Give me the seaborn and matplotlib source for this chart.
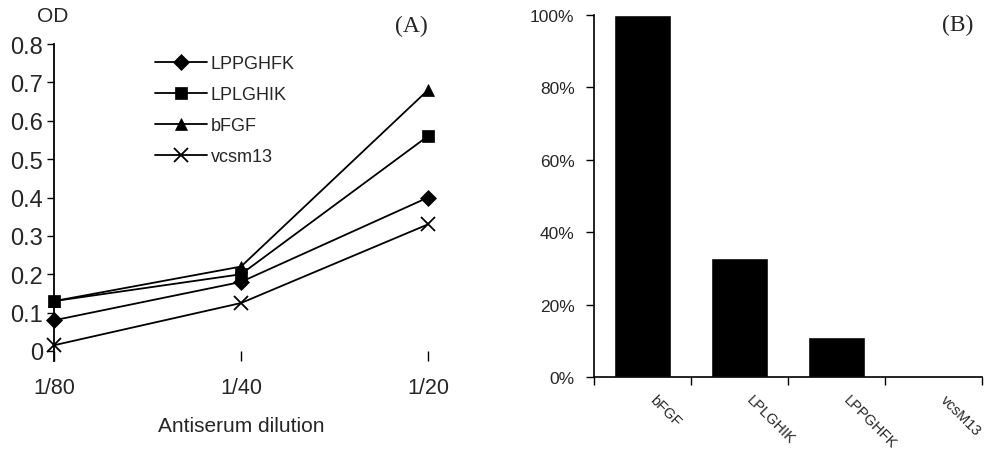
import numpy as np
import pandas as pd
import matplotlib
matplotlib.use('Agg')
import matplotlib.pyplot as plt
import matplotlib.transforms as mtransforms
import seaborn as sns
from matplotlib.ticker import PercentFormatter

# panel A: OD vs antiserum dilution
dilutions = ['1/80', '1/40', '1/20']
lppghfk = [0.08, 0.18, 0.40]
lplghik = [0.13, 0.20, 0.56]
bfgf = [0.13, 0.22, 0.68]
vcsm13 = [0.015, 0.125, 0.33]

# panel B: relative binding
bar_cats = ['bFGF', 'LPLGHIK', 'LPPGHFK', 'vcsM13']
bar_vals = [1.00, 0.33, 0.11, 0.0]

sns.set_style('ticks')
plt.rcParams['font.family'] = ['Liberation Sans', 'DejaVu Sans']

fig = plt.figure(figsize=(9.86, 4.52), dpi=100)
ax1 = fig.add_axes([54 / 986, 1 - 352 / 452, (428 - 54) / 986, (352 - 45) / 452])
ax2 = fig.add_axes([594 / 986, 1 - 378 / 452, (982 - 594) / 986, (378 - 16) / 452])

series = [('LPPGHFK', lppghfk, 'D', 8),
          ('LPLGHIK', lplghik, 's', 9),
          ('bFGF', bfgf, '^', 9),
          ('vcsm13', vcsm13, 'x', 10)]
xpos = np.arange(len(dilutions))
for name, vals, mk, ms in series:
    sns.lineplot(x=xpos, y=vals, ax=ax1, color='black', lw=1.3, marker=mk,
                 markersize=ms, markeredgecolor='black', markeredgewidth=1.3 if mk == 'x' else 0.5,
                 label=name, clip_on=False)

ax1.set_xlim(0, 2)
ax1.set_ylim(0, 0.8)
ax1.set_xticks(xpos)
ax1.set_xticklabels(dilutions)
ax1.set_yticks(np.arange(0, 0.81, 0.1))
ax1.set_yticklabels(['0'] + [f'{v:.1f}' for v in np.arange(0.1, 0.81, 0.1)])
ax1.tick_params(axis='both', direction='out', length=5, width=1, color='black')
ax1.tick_params(axis='y', labelsize=17, pad=3)
ax1.tick_params(axis='x', labelsize=15.5, length=7, pad=12)
for s in ['top', 'right', 'bottom']:
    ax1.spines[s].set_visible(False)
ax1.spines['left'].set_color('black')
ax1.spines['left'].set_linewidth(1.3)
ax1.spines['left'].set_bounds(-0.025, 0.8)
ax1.set_xlabel('Antiserum dilution', fontsize=15, labelpad=13)
ax1.set_ylabel('')
fig.text(37 / 986, 1 - 17 / 452, 'OD', fontsize=15, ha='left', va='center')
fig.text(411 / 986, 1 - 26 / 452, '(A)', fontsize=17, family='Liberation Serif',
         ha='center', va='center')
ax1.legend(loc='upper left', bbox_to_anchor=(0.24, 1.0), frameon=False, fontsize=13,
           handlelength=2.9, handletextpad=0.2, labelspacing=0.78, borderaxespad=0.2)

sns.barplot(x=bar_cats, y=bar_vals, ax=ax2, color='black', width=0.59, saturation=1)
ax2.set_xlim(-0.5, 3.5)
ax2.set_ylim(0, 1.0)
ax2.yaxis.set_major_formatter(PercentFormatter(1.0, decimals=0))
ax2.set_yticks(np.arange(0, 1.01, 0.2))
ax2.tick_params(axis='y', labelsize=12.5, direction='out', length=6, width=1, color='black', pad=8)
ax2.set_xticks(np.arange(-0.5, 3.6, 1.0), minor=True)
ax2.tick_params(axis='x', which='minor', direction='out', length=6, width=1, color='black')
ax2.tick_params(axis='x', which='major', length=0, labelsize=10.5, pad=11)
shift = mtransforms.ScaledTranslation(14 / 100, 0, fig.dpi_scale_trans)
for lab in ax2.get_xticklabels():
    lab.set_rotation(-45)
    lab.set_ha('left')
    lab.set_rotation_mode('anchor')
    lab.set_transform(lab.get_transform() + shift)
for s in ['top', 'right']:
    ax2.spines[s].set_visible(False)
for s in ['left', 'bottom']:
    ax2.spines[s].set_color('black')
    ax2.spines[s].set_linewidth(1.2)
ax2.set_xlabel('')
ax2.set_ylabel('')
fig.text(958 / 986, 1 - 25 / 452, '(B)', fontsize=17, family='Liberation Serif',
         ha='center', va='center')

fig.savefig('out.png', dpi=100)
